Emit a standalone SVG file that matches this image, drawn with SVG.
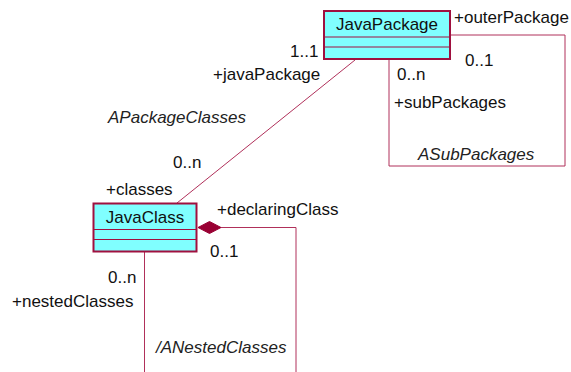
<svg xmlns="http://www.w3.org/2000/svg" width="571" height="372" viewBox="0 0 571 372">
  <style>
    .bg { fill: #ffffff; }
    .cls { fill: #80ffff; stroke: #a0103f; stroke-width: 2; }
    .sep { stroke: #a0103f; stroke-width: 1; }
    .conn { fill: none; stroke: #b0305a; stroke-width: 1; }
    .diamond { fill: #990033; stroke: #990033; stroke-width: 1; }
    text { font-family: "Liberation Sans", Arial, sans-serif; font-size: 17px; fill: #111111; }
    .name { text-anchor: middle; }
    .assoc { font-style: italic; fill: #222222; }
  </style>
  <rect class="bg" x="0" y="0" width="571" height="372"/>

  <g id="connectors">
    <!-- JavaPackage to JavaClass -->
    <line class="conn" x1="355" y1="60" x2="177" y2="203"/>
    <!-- JavaPackage self association -->
    <polyline class="conn" points="389,60 389,166 565,166 565,35 451,35"/>
    <!-- JavaClass nested composition -->
    <polyline class="conn" points="221,227.5 296,227.5 296,372"/>
    <line class="conn" x1="144.5" y1="252" x2="144.5" y2="372"/>
    <polygon class="diamond" points="198,227.5 209.5,221.5 221,227.5 209.5,233.5"/>
  </g>

  <g id="JavaPackage">
    <rect class="cls" x="324" y="11" width="126" height="48"/>
    <line class="sep" x1="324" y1="37" x2="450" y2="37"/>
    <line class="sep" x1="324" y1="47" x2="450" y2="47"/>
    <text class="name" x="387" y="30">JavaPackage</text>
  </g>

  <g id="JavaClass">
    <rect class="cls" x="93.5" y="203.5" width="103" height="48"/>
    <line class="sep" x1="93.5" y1="229.5" x2="196.5" y2="229.5"/>
    <line class="sep" x1="93.5" y1="239.5" x2="196.5" y2="239.5"/>
    <text class="name" x="145" y="223">JavaClass</text>
  </g>

  <g id="labels">
    <text x="454" y="23">+outerPackage</text>
    <text x="465" y="66">0..1</text>
    <text x="397" y="80">0..n</text>
    <text x="394" y="108">+subPackages</text>
    <text class="assoc" x="418" y="160">ASubPackages</text>

    <text x="290" y="57">1..1</text>
    <text x="213" y="80">+javaPackage</text>
    <text class="assoc" x="108" y="123">APackageClasses</text>
    <text x="173" y="168">0..n</text>
    <text x="106" y="195">+classes</text>

    <text x="217" y="215">+declaringClass</text>
    <text x="210" y="257">0..1</text>
    <text x="108" y="283">0..n</text>
    <text x="12" y="307">+nestedClasses</text>
    <text class="assoc" x="156" y="353">/ANestedClasses</text>
  </g>
</svg>
